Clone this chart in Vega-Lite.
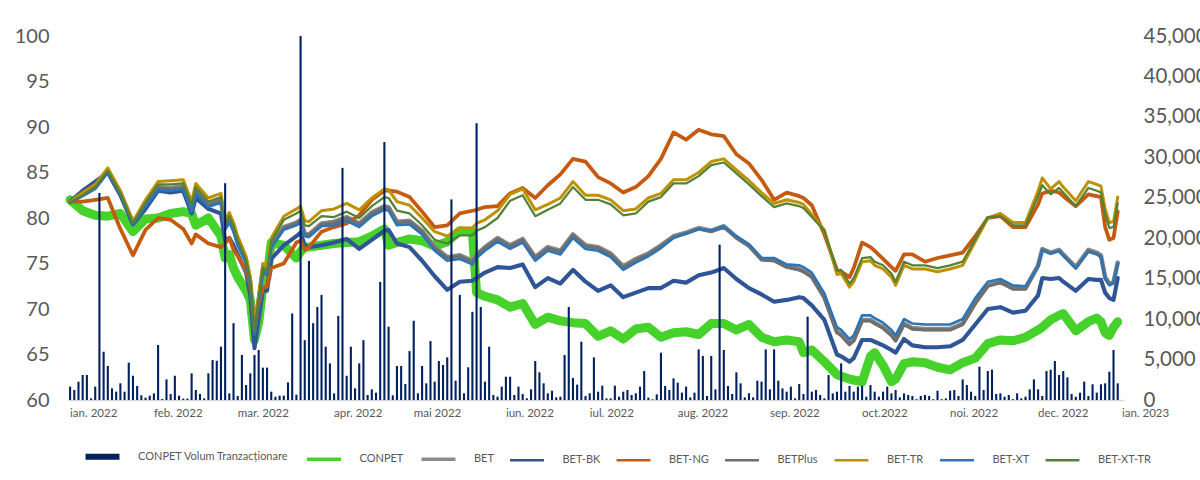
{
"$schema":"https://vega.github.io/schema/vega-lite/v6.json",
"width":1056,"height":364,
"autosize":{"type":"none"},
"padding":{"left":68,"top":36,"right":76,"bottom":80},
"background":"white",
"datasets":{
"idx":[
{"d":"2022-01-03","CONPET":82.0,"BET":81.8,"BET-BK":81.8,"BET-NG":81.8,"BETPlus":81.7,"BET-TR":81.8,"BET-XT":81.7,"BET-XT-TR":81.7},
{"d":"2022-01-06","CONPET":80.8,"BET":82.6,"BET-BK":83.0,"BET-NG":81.8,"BETPlus":82.5,"BET-TR":82.8,"BET-XT":82.4,"BET-XT-TR":82.5},
{"d":"2022-01-11","CONPET":80.3,"BET":83.4,"BET-BK":84.0,"BET-NG":82.0,"BETPlus":83.3,"BET-TR":83.7,"BET-XT":83.2,"BET-XT-TR":83.4},
{"d":"2022-01-14","CONPET":80.2,"BET":85.2,"BET-BK":85.0,"BET-NG":82.2,"BETPlus":85.1,"BET-TR":85.5,"BET-XT":85.0,"BET-XT-TR":85.2},
{"d":"2022-01-19","CONPET":80.5,"BET":82.8,"BET-BK":82.5,"BET-NG":78.8,"BETPlus":82.7,"BET-TR":83.0,"BET-XT":82.6,"BET-XT-TR":82.7},
{"d":"2022-01-25","CONPET":78.5,"BET":79.5,"BET-BK":79.3,"BET-NG":75.9,"BETPlus":79.4,"BET-TR":79.6,"BET-XT":79.3,"BET-XT-TR":79.4},
{"d":"2022-01-28","CONPET":79.9,"BET":81.5,"BET-BK":81.0,"BET-NG":78.7,"BETPlus":81.4,"BET-TR":82.0,"BET-XT":81.3,"BET-XT-TR":81.7},
{"d":"2022-02-02","CONPET":80.0,"BET":83.4,"BET-BK":83.0,"BET-NG":80.0,"BETPlus":83.3,"BET-TR":84.0,"BET-XT":83.1,"BET-XT-TR":83.7},
{"d":"2022-02-07","CONPET":80.5,"BET":83.3,"BET-BK":82.8,"BET-NG":79.8,"BETPlus":83.2,"BET-TR":84.1,"BET-XT":83.0,"BET-XT-TR":83.7},
{"d":"2022-02-10","CONPET":80.7,"BET":83.5,"BET-BK":83.0,"BET-NG":78.8,"BETPlus":83.4,"BET-TR":84.2,"BET-XT":83.2,"BET-XT-TR":83.8},
{"d":"2022-02-14","CONPET":80.5,"BET":81.0,"BET-BK":80.5,"BET-NG":77.2,"BETPlus":80.9,"BET-TR":81.8,"BET-XT":80.7,"BET-XT-TR":81.4},
{"d":"2022-02-15","CONPET":79.2,"BET":83.0,"BET-BK":82.2,"BET-NG":78.2,"BETPlus":82.9,"BET-TR":83.8,"BET-XT":82.7,"BET-XT-TR":83.4},
{"d":"2022-02-18","CONPET":80.0,"BET":81.5,"BET-BK":81.0,"BET-NG":77.2,"BETPlus":81.4,"BET-TR":82.2,"BET-XT":81.2,"BET-XT-TR":81.8},
{"d":"2022-02-23","CONPET":78.0,"BET":82.0,"BET-BK":80.5,"BET-NG":76.8,"BETPlus":81.9,"BET-TR":82.7,"BET-XT":81.7,"BET-XT-TR":82.3},
{"d":"2022-02-24","CONPET":75.6,"BET":79.0,"BET-BK":77.5,"BET-NG":77.2,"BETPlus":78.9,"BET-TR":79.8,"BET-XT":78.7,"BET-XT-TR":79.4},
{"d":"2022-02-25","CONPET":76.0,"BET":79.8,"BET-BK":77.8,"BET-NG":77.8,"BETPlus":79.7,"BET-TR":80.6,"BET-XT":79.5,"BET-XT-TR":80.2},
{"d":"2022-02-28","CONPET":74.5,"BET":78.8,"BET-BK":77.0,"BET-NG":76.5,"BETPlus":78.7,"BET-TR":79.5,"BET-XT":78.5,"BET-XT-TR":79.1},
{"d":"2022-03-01","CONPET":73.5,"BET":77.3,"BET-BK":76.0,"BET-NG":75.8,"BETPlus":77.2,"BET-TR":78.0,"BET-XT":77.0,"BET-XT-TR":77.6},
{"d":"2022-03-03","CONPET":72.0,"BET":75.3,"BET-BK":74.0,"BET-NG":74.2,"BETPlus":75.2,"BET-TR":75.8,"BET-XT":75.0,"BET-XT-TR":75.4},
{"d":"2022-03-04","CONPET":71.0,"BET":73.0,"BET-BK":71.5,"BET-NG":72.5,"BETPlus":72.9,"BET-TR":73.5,"BET-XT":72.7,"BET-XT-TR":73.1},
{"d":"2022-03-07","CONPET":66.6,"BET":67.5,"BET-BK":65.7,"BET-NG":67.7,"BETPlus":67.4,"BET-TR":68.0,"BET-XT":67.2,"BET-XT-TR":67.6},
{"d":"2022-03-08","CONPET":68.5,"BET":71.0,"BET-BK":69.0,"BET-NG":70.5,"BETPlus":70.9,"BET-TR":71.5,"BET-XT":70.7,"BET-XT-TR":71.1},
{"d":"2022-03-09","CONPET":72.5,"BET":74.3,"BET-BK":72.0,"BET-NG":72.3,"BETPlus":74.2,"BET-TR":75.0,"BET-XT":74.0,"BET-XT-TR":74.6},
{"d":"2022-03-10","CONPET":73.5,"BET":74.0,"BET-BK":72.0,"BET-NG":72.5,"BETPlus":73.9,"BET-TR":74.5,"BET-XT":73.7,"BET-XT-TR":74.1},
{"d":"2022-03-11","CONPET":77.3,"BET":77.0,"BET-BK":75.5,"BET-NG":74.5,"BETPlus":76.9,"BET-TR":77.8,"BET-XT":76.7,"BET-XT-TR":77.4},
{"d":"2022-03-16","CONPET":77.0,"BET":79.0,"BET-BK":77.0,"BET-NG":75.0,"BETPlus":78.9,"BET-TR":80.2,"BET-XT":78.7,"BET-XT-TR":79.8},
{"d":"2022-03-21","CONPET":75.6,"BET":79.5,"BET-BK":78.0,"BET-NG":77.3,"BETPlus":79.4,"BET-TR":81.0,"BET-XT":79.2,"BET-XT-TR":80.5},
{"d":"2022-03-22","CONPET":76.3,"BET":79.8,"BET-BK":78.4,"BET-NG":77.5,"BETPlus":79.7,"BET-TR":81.3,"BET-XT":79.5,"BET-XT-TR":80.8},
{"d":"2022-03-23","CONPET":76.8,"BET":78.3,"BET-BK":77.0,"BET-NG":76.5,"BETPlus":78.2,"BET-TR":79.7,"BET-XT":78.0,"BET-XT-TR":79.2},
{"d":"2022-03-24","CONPET":76.8,"BET":78.2,"BET-BK":76.8,"BET-NG":76.8,"BETPlus":78.1,"BET-TR":79.6,"BET-XT":77.9,"BET-XT-TR":79.1},
{"d":"2022-03-29","CONPET":77.0,"BET":79.4,"BET-BK":77.0,"BET-NG":78.5,"BETPlus":79.3,"BET-TR":80.8,"BET-XT":79.1,"BET-XT-TR":80.2},
{"d":"2022-04-01","CONPET":77.2,"BET":79.6,"BET-BK":77.3,"BET-NG":79.0,"BETPlus":79.5,"BET-TR":81.0,"BET-XT":79.2,"BET-XT-TR":80.1},
{"d":"2022-04-06","CONPET":77.3,"BET":80.1,"BET-BK":77.7,"BET-NG":79.4,"BETPlus":80.0,"BET-TR":81.6,"BET-XT":79.7,"BET-XT-TR":80.7},
{"d":"2022-04-11","CONPET":77.4,"BET":79.4,"BET-BK":76.6,"BET-NG":80.3,"BETPlus":79.3,"BET-TR":80.9,"BET-XT":79.0,"BET-XT-TR":80.0},
{"d":"2022-04-14","CONPET":78.0,"BET":80.6,"BET-BK":77.6,"BET-NG":82.0,"BETPlus":80.5,"BET-TR":82.2,"BET-XT":80.2,"BET-XT-TR":81.3},
{"d":"2022-04-19","CONPET":78.8,"BET":81.3,"BET-BK":78.6,"BET-NG":83.0,"BETPlus":81.2,"BET-TR":83.2,"BET-XT":80.9,"BET-XT-TR":82.3},
{"d":"2022-04-20","CONPET":77.0,"BET":81.2,"BET-BK":78.7,"BET-NG":83.0,"BETPlus":81.1,"BET-TR":83.1,"BET-XT":80.8,"BET-XT-TR":82.2},
{"d":"2022-04-26","CONPET":77.3,"BET":79.6,"BET-BK":77.2,"BET-NG":82.9,"BETPlus":79.5,"BET-TR":81.8,"BET-XT":79.2,"BET-XT-TR":80.8},
{"d":"2022-04-29","CONPET":77.7,"BET":79.7,"BET-BK":76.8,"BET-NG":82.3,"BETPlus":79.6,"BET-TR":81.4,"BET-XT":79.3,"BET-XT-TR":80.5},
{"d":"2022-05-04","CONPET":77.5,"BET":78.6,"BET-BK":75.3,"BET-NG":80.7,"BETPlus":78.5,"BET-TR":80.0,"BET-XT":78.2,"BET-XT-TR":79.2},
{"d":"2022-05-09","CONPET":76.9,"BET":76.8,"BET-BK":73.6,"BET-NG":79.0,"BETPlus":76.7,"BET-TR":78.5,"BET-XT":76.4,"BET-XT-TR":77.6},
{"d":"2022-05-12","CONPET":77.4,"BET":75.7,"BET-BK":72.1,"BET-NG":79.2,"BETPlus":75.6,"BET-TR":78.0,"BET-XT":75.3,"BET-XT-TR":77.2},
{"d":"2022-05-17","CONPET":78.6,"BET":75.9,"BET-BK":73.0,"BET-NG":80.5,"BETPlus":75.8,"BET-TR":78.9,"BET-XT":75.5,"BET-XT-TR":78.1},
{"d":"2022-05-20","CONPET":78.5,"BET":75.3,"BET-BK":73.1,"BET-NG":80.8,"BETPlus":75.2,"BET-TR":78.9,"BET-XT":74.9,"BET-XT-TR":78.1},
{"d":"2022-05-23","CONPET":71.8,"BET":76.0,"BET-BK":73.4,"BET-NG":80.9,"BETPlus":75.9,"BET-TR":79.4,"BET-XT":75.6,"BET-XT-TR":78.6},
{"d":"2022-05-25","CONPET":71.4,"BET":76.8,"BET-BK":74.0,"BET-NG":81.2,"BETPlus":76.7,"BET-TR":79.8,"BET-XT":76.4,"BET-XT-TR":79.0},
{"d":"2022-05-30","CONPET":71.0,"BET":77.8,"BET-BK":74.6,"BET-NG":81.3,"BETPlus":77.7,"BET-TR":80.8,"BET-XT":77.4,"BET-XT-TR":80.0},
{"d":"2022-06-03","CONPET":70.2,"BET":77.0,"BET-BK":74.5,"BET-NG":82.7,"BETPlus":76.9,"BET-TR":82.6,"BET-XT":76.6,"BET-XT-TR":81.9},
{"d":"2022-06-08","CONPET":70.6,"BET":77.7,"BET-BK":74.9,"BET-NG":83.3,"BETPlus":77.6,"BET-TR":83.2,"BET-XT":77.3,"BET-XT-TR":82.5},
{"d":"2022-06-14","CONPET":68.3,"BET":75.7,"BET-BK":72.4,"BET-NG":82.2,"BETPlus":75.6,"BET-TR":80.9,"BET-XT":75.3,"BET-XT-TR":80.2},
{"d":"2022-06-17","CONPET":69.1,"BET":76.8,"BET-BK":73.4,"BET-NG":83.6,"BETPlus":76.7,"BET-TR":81.5,"BET-XT":76.4,"BET-XT-TR":80.9},
{"d":"2022-06-22","CONPET":68.7,"BET":76.4,"BET-BK":72.8,"BET-NG":84.8,"BETPlus":76.3,"BET-TR":82.2,"BET-XT":76.0,"BET-XT-TR":81.6},
{"d":"2022-06-27","CONPET":68.5,"BET":78.2,"BET-BK":74.3,"BET-NG":86.5,"BETPlus":78.1,"BET-TR":84.0,"BET-XT":77.8,"BET-XT-TR":83.4},
{"d":"2022-06-30","CONPET":68.4,"BET":77.0,"BET-BK":73.0,"BET-NG":86.2,"BETPlus":76.9,"BET-TR":82.5,"BET-XT":76.6,"BET-XT-TR":82.0},
{"d":"2022-07-05","CONPET":67.0,"BET":76.8,"BET-BK":72.0,"BET-NG":84.5,"BETPlus":76.7,"BET-TR":82.5,"BET-XT":76.4,"BET-XT-TR":82.0},
{"d":"2022-07-08","CONPET":67.6,"BET":76.1,"BET-BK":72.6,"BET-NG":83.8,"BETPlus":76.0,"BET-TR":82.0,"BET-XT":75.7,"BET-XT-TR":81.5},
{"d":"2022-07-13","CONPET":66.7,"BET":74.7,"BET-BK":71.3,"BET-NG":82.8,"BETPlus":74.6,"BET-TR":80.8,"BET-XT":74.3,"BET-XT-TR":80.3},
{"d":"2022-07-18","CONPET":67.8,"BET":75.5,"BET-BK":71.8,"BET-NG":83.4,"BETPlus":75.4,"BET-TR":81.0,"BET-XT":75.1,"BET-XT-TR":80.5},
{"d":"2022-07-21","CONPET":68.0,"BET":76.1,"BET-BK":72.3,"BET-NG":84.6,"BETPlus":76.0,"BET-TR":82.2,"BET-XT":75.8,"BET-XT-TR":81.8},
{"d":"2022-07-26","CONPET":66.9,"BET":77.0,"BET-BK":72.3,"BET-NG":86.5,"BETPlus":76.9,"BET-TR":82.7,"BET-XT":76.7,"BET-XT-TR":82.3},
{"d":"2022-07-29","CONPET":67.4,"BET":78.0,"BET-BK":73.1,"BET-NG":89.4,"BETPlus":77.9,"BET-TR":84.2,"BET-XT":77.8,"BET-XT-TR":83.8},
{"d":"2022-08-03","CONPET":67.5,"BET":78.4,"BET-BK":72.9,"BET-NG":88.6,"BETPlus":78.3,"BET-TR":84.2,"BET-XT":78.3,"BET-XT-TR":83.8},
{"d":"2022-08-08","CONPET":67.2,"BET":78.9,"BET-BK":73.7,"BET-NG":89.7,"BETPlus":78.8,"BET-TR":85.0,"BET-XT":78.8,"BET-XT-TR":84.6},
{"d":"2022-08-11","CONPET":68.4,"BET":78.6,"BET-BK":74.0,"BET-NG":89.2,"BETPlus":78.5,"BET-TR":86.2,"BET-XT":78.6,"BET-XT-TR":85.8},
{"d":"2022-08-17","CONPET":68.4,"BET":79.1,"BET-BK":74.5,"BET-NG":89.0,"BETPlus":79.0,"BET-TR":86.5,"BET-XT":79.1,"BET-XT-TR":86.1},
{"d":"2022-08-22","CONPET":67.7,"BET":77.9,"BET-BK":73.3,"BET-NG":87.0,"BETPlus":77.8,"BET-TR":85.3,"BET-XT":78.0,"BET-XT-TR":84.9},
{"d":"2022-08-25","CONPET":68.3,"BET":77.0,"BET-BK":72.3,"BET-NG":86.0,"BETPlus":76.9,"BET-TR":84.1,"BET-XT":77.1,"BET-XT-TR":83.7},
{"d":"2022-08-30","CONPET":66.9,"BET":75.5,"BET-BK":71.6,"BET-NG":84.2,"BETPlus":75.4,"BET-TR":82.8,"BET-XT":75.6,"BET-XT-TR":82.4},
{"d":"2022-09-02","CONPET":66.4,"BET":75.4,"BET-BK":70.8,"BET-NG":82.0,"BETPlus":75.3,"BET-TR":81.6,"BET-XT":75.6,"BET-XT-TR":81.2},
{"d":"2022-09-07","CONPET":66.6,"BET":74.7,"BET-BK":71.0,"BET-NG":82.8,"BETPlus":74.6,"BET-TR":82.0,"BET-XT":74.9,"BET-XT-TR":81.6},
{"d":"2022-09-12","CONPET":66.4,"BET":74.4,"BET-BK":71.3,"BET-NG":82.4,"BETPlus":74.3,"BET-TR":81.7,"BET-XT":74.8,"BET-XT-TR":81.3},
{"d":"2022-09-13","CONPET":65.2,"BET":74.2,"BET-BK":71.2,"BET-NG":82.2,"BETPlus":74.1,"BET-TR":81.5,"BET-XT":74.6,"BET-XT-TR":81.1},
{"d":"2022-09-15","CONPET":65.5,"BET":73.6,"BET-BK":70.4,"BET-NG":81.4,"BETPlus":73.5,"BET-TR":80.4,"BET-XT":74.0,"BET-XT-TR":80.1},
{"d":"2022-09-20","CONPET":64.2,"BET":71.3,"BET-BK":68.8,"BET-NG":78.2,"BETPlus":71.2,"BET-TR":78.7,"BET-XT":71.7,"BET-XT-TR":78.6},
{"d":"2022-09-23","CONPET":62.8,"BET":67.5,"BET-BK":65.0,"BET-NG":74.3,"BETPlus":67.4,"BET-TR":73.8,"BET-XT":68.0,"BET-XT-TR":74.2},
{"d":"2022-09-26","CONPET":62.6,"BET":67.2,"BET-BK":64.8,"BET-NG":74.1,"BETPlus":67.1,"BET-TR":73.9,"BET-XT":67.7,"BET-XT-TR":74.3},
{"d":"2022-09-28","CONPET":62.3,"BET":66.2,"BET-BK":64.2,"BET-NG":73.5,"BETPlus":66.1,"BET-TR":72.4,"BET-XT":66.7,"BET-XT-TR":72.8},
{"d":"2022-09-29","CONPET":62.2,"BET":66.6,"BET-BK":64.6,"BET-NG":74.5,"BETPlus":66.5,"BET-TR":73.0,"BET-XT":67.1,"BET-XT-TR":73.4},
{"d":"2022-10-03","CONPET":62.0,"BET":68.8,"BET-BK":66.6,"BET-NG":77.3,"BETPlus":68.7,"BET-TR":75.2,"BET-XT":69.3,"BET-XT-TR":75.6},
{"d":"2022-10-05","CONPET":64.8,"BET":68.8,"BET-BK":66.6,"BET-NG":76.8,"BETPlus":68.7,"BET-TR":75.3,"BET-XT":69.3,"BET-XT-TR":75.7},
{"d":"2022-10-06","CONPET":65.2,"BET":68.5,"BET-BK":66.4,"BET-NG":76.4,"BETPlus":68.4,"BET-TR":74.8,"BET-XT":69.0,"BET-XT-TR":75.2},
{"d":"2022-10-10","CONPET":63.8,"BET":68.0,"BET-BK":66.0,"BET-NG":75.5,"BETPlus":67.9,"BET-TR":74.4,"BET-XT":68.5,"BET-XT-TR":74.8},
{"d":"2022-10-12","CONPET":62.0,"BET":67.2,"BET-BK":65.5,"BET-NG":74.6,"BETPlus":67.1,"BET-TR":73.5,"BET-XT":67.7,"BET-XT-TR":73.9},
{"d":"2022-10-13","CONPET":62.3,"BET":66.6,"BET-BK":65.2,"BET-NG":74.2,"BETPlus":66.5,"BET-TR":72.6,"BET-XT":67.1,"BET-XT-TR":73.0},
{"d":"2022-10-17","CONPET":64.0,"BET":68.4,"BET-BK":66.7,"BET-NG":76.0,"BETPlus":68.3,"BET-TR":74.8,"BET-XT":68.9,"BET-XT-TR":75.2},
{"d":"2022-10-19","CONPET":64.2,"BET":67.9,"BET-BK":66.0,"BET-NG":76.0,"BETPlus":67.8,"BET-TR":74.4,"BET-XT":68.4,"BET-XT-TR":74.8},
{"d":"2022-10-24","CONPET":64.1,"BET":67.8,"BET-BK":65.8,"BET-NG":75.2,"BETPlus":67.7,"BET-TR":74.4,"BET-XT":68.3,"BET-XT-TR":74.8},
{"d":"2022-10-27","CONPET":63.6,"BET":67.8,"BET-BK":65.8,"BET-NG":75.6,"BETPlus":67.7,"BET-TR":74.1,"BET-XT":68.3,"BET-XT-TR":74.5},
{"d":"2022-11-01","CONPET":63.3,"BET":67.8,"BET-BK":65.9,"BET-NG":75.9,"BETPlus":67.7,"BET-TR":74.4,"BET-XT":68.3,"BET-XT-TR":74.8},
{"d":"2022-11-04","CONPET":64.1,"BET":68.4,"BET-BK":66.6,"BET-NG":76.2,"BETPlus":68.3,"BET-TR":74.8,"BET-XT":68.9,"BET-XT-TR":75.2},
{"d":"2022-11-09","CONPET":64.6,"BET":70.7,"BET-BK":68.3,"BET-NG":78.0,"BETPlus":70.6,"BET-TR":77.4,"BET-XT":71.2,"BET-XT-TR":77.7},
{"d":"2022-11-14","CONPET":66.2,"BET":72.6,"BET-BK":70.0,"BET-NG":80.0,"BETPlus":72.5,"BET-TR":80.0,"BET-XT":73.0,"BET-XT-TR":80.1},
{"d":"2022-11-17","CONPET":66.6,"BET":73.0,"BET-BK":70.2,"BET-NG":80.2,"BETPlus":72.9,"BET-TR":80.5,"BET-XT":73.3,"BET-XT-TR":80.2},
{"d":"2022-11-22","CONPET":66.5,"BET":72.3,"BET-BK":69.6,"BET-NG":79.0,"BETPlus":72.2,"BET-TR":79.5,"BET-XT":72.6,"BET-XT-TR":79.2},
{"d":"2022-11-25","CONPET":66.9,"BET":72.3,"BET-BK":69.8,"BET-NG":79.0,"BETPlus":72.2,"BET-TR":79.5,"BET-XT":72.5,"BET-XT-TR":79.2},
{"d":"2022-12-02","CONPET":67.7,"BET":74.8,"BET-BK":71.5,"BET-NG":81.5,"BETPlus":74.7,"BET-TR":83.0,"BET-XT":74.7,"BET-XT-TR":82.4},
{"d":"2022-12-05","CONPET":68.0,"BET":76.6,"BET-BK":73.4,"BET-NG":82.7,"BETPlus":76.5,"BET-TR":84.4,"BET-XT":76.5,"BET-XT-TR":83.6},
{"d":"2022-12-07","CONPET":68.8,"BET":76.2,"BET-BK":73.3,"BET-NG":83.0,"BETPlus":76.1,"BET-TR":83.2,"BET-XT":76.1,"BET-XT-TR":82.6},
{"d":"2022-12-09","CONPET":69.3,"BET":76.5,"BET-BK":73.4,"BET-NG":82.8,"BETPlus":76.4,"BET-TR":84.0,"BET-XT":76.4,"BET-XT-TR":83.3},
{"d":"2022-12-12","CONPET":69.5,"BET":76.0,"BET-BK":73.0,"BET-NG":82.4,"BETPlus":75.9,"BET-TR":83.4,"BET-XT":75.9,"BET-XT-TR":82.8},
{"d":"2022-12-15","CONPET":67.6,"BET":74.6,"BET-BK":72.0,"BET-NG":81.3,"BETPlus":74.5,"BET-TR":81.9,"BET-XT":74.5,"BET-XT-TR":81.3},
{"d":"2022-12-20","CONPET":68.6,"BET":76.5,"BET-BK":73.3,"BET-NG":82.6,"BETPlus":76.4,"BET-TR":84.0,"BET-XT":76.3,"BET-XT-TR":83.3},
{"d":"2022-12-22","CONPET":69.0,"BET":76.2,"BET-BK":73.2,"BET-NG":82.4,"BETPlus":76.1,"BET-TR":83.7,"BET-XT":76.0,"BET-XT-TR":83.0},
{"d":"2022-12-23","CONPET":68.6,"BET":75.9,"BET-BK":73.2,"BET-NG":82.3,"BETPlus":75.8,"BET-TR":83.5,"BET-XT":75.7,"BET-XT-TR":82.8},
{"d":"2022-12-27","CONPET":67.4,"BET":73.5,"BET-BK":71.8,"BET-NG":79.0,"BETPlus":73.4,"BET-TR":81.0,"BET-XT":73.3,"BET-XT-TR":80.4},
{"d":"2022-12-28","CONPET":67.1,"BET":72.8,"BET-BK":71.2,"BET-NG":77.6,"BETPlus":72.7,"BET-TR":79.5,"BET-XT":72.6,"BET-XT-TR":78.9},
{"d":"2022-12-29","CONPET":68.0,"BET":73.0,"BET-BK":71.0,"BET-NG":77.8,"BETPlus":72.9,"BET-TR":79.6,"BET-XT":72.8,"BET-XT-TR":79.0},
{"d":"2022-12-30","CONPET":68.6,"BET":75.1,"BET-BK":73.4,"BET-NG":80.7,"BETPlus":75.0,"BET-TR":82.3,"BET-XT":74.9,"BET-XT-TR":81.6}
],
"vol":[
{"d":"2022-01-03","v":1650},{"d":"2022-01-04","v":1240},{"d":"2022-01-05","v":2260},{"d":"2022-01-06","v":3090},{"d":"2022-01-07","v":3090},{"d":"2022-01-10","v":200},{"d":"2022-01-11","v":1650},{"d":"2022-01-12","v":25600},{"d":"2022-01-13","v":5970},{"d":"2022-01-14","v":4200},{"d":"2022-01-17","v":1440},{"d":"2022-01-18","v":1030},{"d":"2022-01-19","v":2060},{"d":"2022-01-20","v":1030},{"d":"2022-01-21","v":4610},{"d":"2022-01-25","v":3000},{"d":"2022-01-26","v":1740},{"d":"2022-01-27","v":580},{"d":"2022-01-28","v":290},{"d":"2022-01-31","v":540},
{"d":"2022-02-01","v":820},{"d":"2022-02-02","v":6800},{"d":"2022-02-03","v":120},{"d":"2022-02-04","v":2550},{"d":"2022-02-07","v":740},{"d":"2022-02-08","v":3000},{"d":"2022-02-09","v":540},{"d":"2022-02-10","v":170},{"d":"2022-02-11","v":170},{"d":"2022-02-14","v":3300},{"d":"2022-02-15","v":1240},{"d":"2022-02-16","v":740},{"d":"2022-02-17","v":200},{"d":"2022-02-18","v":3300},{"d":"2022-02-21","v":4940},{"d":"2022-02-22","v":4850},{"d":"2022-02-23","v":6590},{"d":"2022-02-24","v":26800},{"d":"2022-02-25","v":820},{"d":"2022-02-28","v":9500},
{"d":"2022-03-01","v":490},{"d":"2022-03-02","v":5560},{"d":"2022-03-03","v":1850},{"d":"2022-03-04","v":3300},{"d":"2022-03-07","v":5560},{"d":"2022-03-08","v":6180},{"d":"2022-03-09","v":4000},{"d":"2022-03-10","v":4000},{"d":"2022-03-11","v":1030},{"d":"2022-03-14","v":410},{"d":"2022-03-15","v":540},{"d":"2022-03-16","v":540},{"d":"2022-03-17","v":2180},{"d":"2022-03-18","v":10700},{"d":"2022-03-21","v":660},{"d":"2022-03-22","v":45000},{"d":"2022-03-23","v":7400},{"d":"2022-03-24","v":17200},{"d":"2022-03-25","v":9500},{"d":"2022-03-28","v":11500},{"d":"2022-03-29","v":13000},{"d":"2022-03-30","v":6590},{"d":"2022-03-31","v":4530},
{"d":"2022-04-01","v":820},{"d":"2022-04-04","v":10400},{"d":"2022-04-05","v":28700},{"d":"2022-04-06","v":3000},{"d":"2022-04-07","v":6590},{"d":"2022-04-08","v":1440},{"d":"2022-04-11","v":4530},{"d":"2022-04-12","v":7400},{"d":"2022-04-13","v":620},{"d":"2022-04-14","v":1320},{"d":"2022-04-15","v":910},{"d":"2022-04-18","v":14600},{"d":"2022-04-19","v":31900},{"d":"2022-04-20","v":9060},{"d":"2022-04-21","v":580},{"d":"2022-04-26","v":4200},{"d":"2022-04-27","v":4200},{"d":"2022-04-28","v":1980},{"d":"2022-04-29","v":6050},
{"d":"2022-05-02","v":9800},{"d":"2022-05-03","v":830},{"d":"2022-05-04","v":4200},{"d":"2022-05-05","v":2060},{"d":"2022-05-06","v":7290},{"d":"2022-05-09","v":2270},{"d":"2022-05-10","v":4820},{"d":"2022-05-11","v":4330},{"d":"2022-05-12","v":5270},{"d":"2022-05-13","v":24800},{"d":"2022-05-16","v":2390},{"d":"2022-05-17","v":13000},{"d":"2022-05-18","v":830},{"d":"2022-05-19","v":4040},{"d":"2022-05-20","v":10900},{"d":"2022-05-23","v":34200},{"d":"2022-05-24","v":11500},{"d":"2022-05-25","v":2270},{"d":"2022-05-26","v":6590},{"d":"2022-05-27","v":620},{"d":"2022-05-30","v":410},{"d":"2022-05-31","v":1650},
{"d":"2022-06-02","v":2880},{"d":"2022-06-03","v":2880},{"d":"2022-06-06","v":620},{"d":"2022-06-07","v":1650},{"d":"2022-06-08","v":740},{"d":"2022-06-09","v":200},{"d":"2022-06-10","v":1320},{"d":"2022-06-14","v":4820},{"d":"2022-06-15","v":3420},{"d":"2022-06-16","v":2060},{"d":"2022-06-17","v":830},{"d":"2022-06-20","v":1150},{"d":"2022-06-21","v":330},{"d":"2022-06-22","v":410},{"d":"2022-06-23","v":5560},{"d":"2022-06-24","v":11500},{"d":"2022-06-27","v":2720},{"d":"2022-06-28","v":1900},{"d":"2022-06-29","v":7210},{"d":"2022-06-30","v":500},
{"d":"2022-07-01","v":830},{"d":"2022-07-04","v":5270},{"d":"2022-07-05","v":1030},{"d":"2022-07-06","v":1770},{"d":"2022-07-07","v":200},{"d":"2022-07-08","v":200},{"d":"2022-07-11","v":1770},{"d":"2022-07-12","v":410},{"d":"2022-07-13","v":1030},{"d":"2022-07-14","v":1240},{"d":"2022-07-15","v":620},{"d":"2022-07-18","v":830},{"d":"2022-07-19","v":1650},{"d":"2022-07-20","v":3580},{"d":"2022-07-21","v":290},{"d":"2022-07-22","v":80},{"d":"2022-07-25","v":700},{"d":"2022-07-26","v":5850},{"d":"2022-07-27","v":1730},{"d":"2022-07-28","v":1240},{"d":"2022-07-29","v":2680},
{"d":"2022-08-01","v":2140},{"d":"2022-08-02","v":910},{"d":"2022-08-03","v":1650},{"d":"2022-08-04","v":330},{"d":"2022-08-05","v":910},{"d":"2022-08-08","v":6260},{"d":"2022-08-09","v":5450},{"d":"2022-08-10","v":500},{"d":"2022-08-11","v":5450},{"d":"2022-08-12","v":1320},{"d":"2022-08-16","v":19200},{"d":"2022-08-17","v":6180},{"d":"2022-08-18","v":1730},{"d":"2022-08-19","v":740},{"d":"2022-08-22","v":3420},{"d":"2022-08-23","v":2060},{"d":"2022-08-24","v":330},{"d":"2022-08-25","v":830},{"d":"2022-08-26","v":330},{"d":"2022-08-29","v":2390},{"d":"2022-08-30","v":2270},{"d":"2022-08-31","v":6260},
{"d":"2022-09-01","v":1320},{"d":"2022-09-02","v":6260},{"d":"2022-09-05","v":2390},{"d":"2022-09-06","v":1440},{"d":"2022-09-07","v":1030},{"d":"2022-09-08","v":1650},{"d":"2022-09-09","v":200},{"d":"2022-09-12","v":1980},{"d":"2022-09-13","v":740},{"d":"2022-09-14","v":10300},{"d":"2022-09-15","v":1030},{"d":"2022-09-16","v":1240},{"d":"2022-09-19","v":620},{"d":"2022-09-20","v":200},{"d":"2022-09-21","v":3090},{"d":"2022-09-22","v":820},{"d":"2022-09-23","v":1030},{"d":"2022-09-26","v":4530},{"d":"2022-09-27","v":1030},{"d":"2022-09-28","v":1750},{"d":"2022-09-29","v":1030},{"d":"2022-09-30","v":1650},
{"d":"2022-10-03","v":1750},{"d":"2022-10-04","v":410},{"d":"2022-10-05","v":1850},{"d":"2022-10-06","v":1030},{"d":"2022-10-07","v":410},{"d":"2022-10-10","v":1030},{"d":"2022-10-11","v":1650},{"d":"2022-10-12","v":820},{"d":"2022-10-13","v":1240},{"d":"2022-10-14","v":330},{"d":"2022-10-17","v":820},{"d":"2022-10-18","v":620},{"d":"2022-10-19","v":500},{"d":"2022-10-20","v":100},{"d":"2022-10-21","v":500},{"d":"2022-10-24","v":620},{"d":"2022-10-25","v":500},{"d":"2022-10-26","v":100},{"d":"2022-10-27","v":1150},{"d":"2022-10-28","v":100},{"d":"2022-10-31","v":200},
{"d":"2022-11-01","v":1150},{"d":"2022-11-02","v":1240},{"d":"2022-11-03","v":500},{"d":"2022-11-04","v":2550},{"d":"2022-11-07","v":1850},{"d":"2022-11-08","v":1030},{"d":"2022-11-09","v":500},{"d":"2022-11-10","v":4120},{"d":"2022-11-11","v":1240},{"d":"2022-11-14","v":3580},{"d":"2022-11-15","v":3750},{"d":"2022-11-16","v":740},{"d":"2022-11-17","v":820},{"d":"2022-11-18","v":410},{"d":"2022-11-21","v":620},{"d":"2022-11-22","v":100},{"d":"2022-11-23","v":820},{"d":"2022-11-24","v":200},{"d":"2022-11-25","v":410},{"d":"2022-11-28","v":1320},{"d":"2022-11-29","v":2550},
{"d":"2022-12-02","v":1320},{"d":"2022-12-05","v":500},{"d":"2022-12-06","v":3580},{"d":"2022-12-07","v":3750},{"d":"2022-12-08","v":4820},{"d":"2022-12-09","v":3090},{"d":"2022-12-12","v":3580},{"d":"2022-12-13","v":2800},{"d":"2022-12-14","v":740},{"d":"2022-12-15","v":410},{"d":"2022-12-16","v":910},{"d":"2022-12-19","v":2270},{"d":"2022-12-20","v":500},{"d":"2022-12-21","v":1940},{"d":"2022-12-22","v":910},{"d":"2022-12-23","v":1940},{"d":"2022-12-27","v":2060},{"d":"2022-12-28","v":3500},{"d":"2022-12-29","v":6180},{"d":"2022-12-30","v":2060}
]
},
"encoding":{
"x":{"field":"d","type":"ordinal","title":null,
"scale":{"type":"band","paddingInner":0,"paddingOuter":0,"domain":{"unionWith":["2023-01-03"]}},
"axis":{"values":["2022-01-03","2022-02-01","2022-03-01","2022-04-01","2022-05-02","2022-06-02","2022-07-01","2022-08-01","2022-09-01","2022-10-03","2022-11-01","2022-12-02","2023-01-03"],
"labelExpr":"['ian.','feb.','mar.','apr.','mai','iun.','iul.','aug.','sep.','oct.','noi.','dec.'][toNumber(substring(datum.value,5,7))-1] + (toNumber(substring(datum.value,5,7))==10 ? '' : ' ') + substring(datum.value,0,4)",
"ticks":false,"grid":false,"domainColor":"#D9D9D9","domainWidth":1.5,"labelAlign":"left","labelAngle":0,"labelColor":"#595959","labelFontSize":11.5,"labelPadding":7,"labelOverlap":false,"labelBound":false}}
},
"layer":[
{
"encoding":{"y":{"field":"val","type":"quantitative","title":null,"scale":{"domain":[60,100],"nice":false,"zero":false},
"axis":{"values":[60,65,70,75,80,85,90,95,100],"ticks":false,"domain":false,"grid":false,"labelFontSize":20,"labelColor":"#595959","labelPadding":19}}},
"layer":[
{"data":{"name":"idx"},
"transform":[{"fold":["CONPET"],"as":["series","val"]}],
"mark":{"type":"line","strokeWidth":9,"strokeJoin":"round","strokeCap":"round"},
"encoding":{"color":{"field":"series","type":"nominal",
"scale":{"domain":["CONPET Volum Tranzacționare","CONPET","BET","BET-BK","BET-NG","BETPlus","BET-TR","BET-XT","BET-XT-TR"],"range":["#002060","#46D12B","#8C8C8C","#2F5597","#C55A11","#6F6F6F","#BF9000","#2E75B6","#548235"]},
"legend":{"title":null,"orient":"none","legendX":29,"legendY":415,"direction":"horizontal","symbolType":"stroke","symbolSize":1152,"labelFontSize":11,"labelColor":"#595959","columnPadding":10.5,"labelOffset":30,
"encode":{"symbols":{"update":{"stroke":{"scale":"color","field":"value"},"fill":{"value":"transparent"},"opacity":{"value":1},"strokeWidth":{"signal":"datum.value === 'CONPET Volum Tranzacționare' ? 6 : datum.value === 'CONPET' || datum.value === 'BET' ? 3.5 : 2.5"}}}}}}}},
{"data":{"name":"idx"},
"transform":[{"fold":["BET","BET-BK","BET-NG","BETPlus","BET-TR","BET-XT","BET-XT-TR"],"as":["series","val"]}],
"mark":{"type":"line","strokeJoin":"round","strokeCap":"round"},
"encoding":{"color":{"field":"series","type":"nominal",
"scale":{"domain":["CONPET Volum Tranzacționare","CONPET","BET","BET-BK","BET-NG","BETPlus","BET-TR","BET-XT","BET-XT-TR"],"range":["#002060","#46D12B","#8C8C8C","#2F5597","#C55A11","#6F6F6F","#BF9000","#2E75B6","#548235"]},
"legend":{"title":null,"orient":"none","legendX":29,"legendY":415,"direction":"horizontal","symbolType":"stroke","symbolSize":1152,"labelFontSize":11,"labelColor":"#595959","columnPadding":10.5,"labelOffset":30,
"encode":{"symbols":{"update":{"stroke":{"scale":"color","field":"value"},"fill":{"value":"transparent"},"opacity":{"value":1},"strokeWidth":{"signal":"datum.value === 'CONPET Volum Tranzacționare' ? 6 : datum.value === 'CONPET' || datum.value === 'BET' ? 3.5 : 2.5"}}}}}},
"strokeWidth":{"field":"series","type":"ordinal","legend":null,"scale":{"domain":["BET","BET-BK","BET-NG","BETPlus","BET-TR","BET-XT","BET-XT-TR"],"range":[4.5,2.25,2.25,2,2.25,2.25,2.25]}}}}
]
},
{"data":{"name":"vol"},
"mark":{"type":"bar","width":{"band":0.5}},
"encoding":{
"y":{"field":"v","type":"quantitative","title":null,"scale":{"domain":[0,45000],"nice":false},
"axis":{"orient":"right","values":[0,5000,10000,15000,20000,25000,30000,35000,40000,45000],"format":",d","ticks":false,"domain":false,"grid":false,"labelFontSize":20.5,"labelColor":"#595959","labelPadding":19}},
"color":{"datum":"CONPET Volum Tranzacționare","type":"nominal",
"scale":{"domain":["CONPET Volum Tranzacționare","CONPET","BET","BET-BK","BET-NG","BETPlus","BET-TR","BET-XT","BET-XT-TR"],"range":["#002060","#46D12B","#8C8C8C","#2F5597","#C55A11","#6F6F6F","#BF9000","#2E75B6","#548235"]},
"legend":{"title":null,"orient":"none","legendX":29,"legendY":415,"direction":"horizontal","symbolType":"stroke","symbolSize":1152,"labelFontSize":11,"labelColor":"#595959","columnPadding":10.5,"labelOffset":30,
"encode":{"symbols":{"update":{"stroke":{"scale":"color","field":"value"},"fill":{"value":"transparent"},"opacity":{"value":1},"strokeWidth":{"signal":"datum.value === 'CONPET Volum Tranzacționare' ? 6 : datum.value === 'CONPET' || datum.value === 'BET' ? 3.5 : 2.5"}}}}}}}
}
],
"resolve":{"scale":{"y":"independent"}},
"config":{"font":"Lato","view":{"stroke":null},"axis":{"labelFont":"Lato"},"legend":{"labelFont":"Lato"}}
}
